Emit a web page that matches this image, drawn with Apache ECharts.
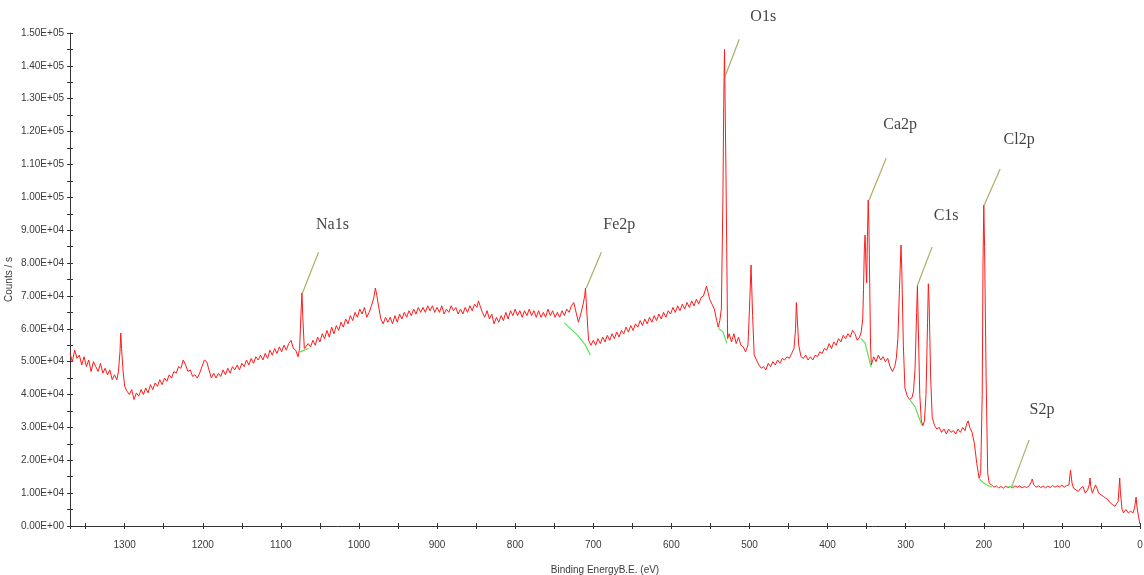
<!DOCTYPE html>
<html>
<head>
<meta charset="utf-8">
<script src="https://cdn.jsdelivr.net/npm/echarts@6/dist/echarts.min.js"></script>
<style>
html,body{margin:0;padding:0;background:#fff;}
#chart{width:1144px;height:575px;}
</style>
</head>
<body>
<div id="chart"></div>
<script>
// Survey spectrum: [binding energy (eV), counts/s in thousands]
const spectrumHighBE = [
 [1370,52.5],[1367,50.0],[1364,53.5],[1361,51.0],[1358,52.0],[1355,49.0],[1352,51.5],[1349,48.5],[1346,50.5],[1343,47.0],
 [1340,50.0],[1337,48.5],[1334,47.0],[1331,49.5],[1328,46.5],[1325,48.0],[1322,46.0],[1319,47.5],[1316,44.5],[1313,46.0],
 [1310,44.5],[1308,47.0],[1306,53.0],[1305,58.7],[1304,54.0],[1302,47.0],[1300,42.5],[1297,41.0],[1294,40.0],[1291,41.5],
 [1288,38.5],[1285,40.5],[1282,39.5],[1279,41.5],[1276,40.0],[1273,42.0],[1270,40.5],[1267,43.0],[1264,41.5],[1261,43.5],
 [1258,42.5],[1255,44.5],[1252,43.0],[1249,45.0],[1246,44.0],[1243,46.0],[1240,45.0],[1237,47.0],[1234,46.5],[1231,48.5],
 [1228,48.0],[1225,50.5],[1222,49.0],[1219,47.0],[1216,47.5],[1213,45.5],[1210,46.0],[1207,45.0],[1204,46.5],[1201,48.5],
 [1198,50.5],[1195,50.0],[1192,47.5],[1189,45.0],[1186,46.5],[1183,45.0],[1180,46.5],[1177,45.5],[1174,47.5],[1171,46.0],
 [1168,48.0],[1165,46.5],[1162,48.5],[1159,47.5],[1156,49.0],[1153,47.5],[1150,49.5],[1147,48.5],[1144,50.5],[1141,49.0],
 [1138,51.0],[1135,49.5],[1132,51.5],[1129,50.5],[1126,52.0],[1123,50.5],[1120,52.5],[1117,51.0],[1114,53.5],[1111,52.0],
 [1108,54.0],[1105,52.5],[1102,54.5],[1099,53.0],[1096,55.0],[1093,53.5],[1090,55.5],[1087,56.5],[1084,54.0],[1081,53.5],
 [1078,51.5],[1076,54.0],[1074,66.0],[1073,70.9],[1072,64.0],[1070,54.0],[1068,53.5],[1065,55.5],[1062,54.5],[1059,56.5],
 [1056,55.0],[1053,57.5],[1050,56.0],[1047,58.5],[1044,57.0],[1041,59.5],[1038,57.5],[1035,60.5],[1032,58.5],[1029,61.0],
 [1026,59.5],[1023,62.0],[1020,60.5],[1017,63.0],[1014,61.5],[1011,64.0],[1008,62.5],[1005,65.0],[1002,63.5]
];
const spectrumMidBE = [
 [999,66.0],[996,64.5],[993,66.5],[990,63.5],[987,65.0],[984,67.0],[981,69.5],[979,72.4],[977,70.0],[975,67.0],
 [972,63.0],[969,61.5],[966,63.5],[963,62.0],[960,63.5],[957,61.5],[954,64.0],[951,62.0],[948,64.5],[945,63.0],
 [942,65.0],[939,63.5],[936,65.5],[933,64.0],[930,66.0],[927,64.5],[924,66.5],[921,65.0],[918,66.5],[915,65.0],
 [912,67.0],[909,65.5],[906,67.0],[903,65.0],[900,66.5],[897,65.0],[894,67.0],[891,64.5],[888,66.0],[885,65.0],
 [882,67.0],[879,65.5],[876,66.5],[873,64.5],[870,66.0],[867,64.5],[864,66.5],[861,65.0],[858,67.0],[855,65.5],
 [852,67.5],[849,66.5],[847,68.5],[845,67.0],[842,65.0],[839,63.5],[836,65.5],[833,63.0],[830,64.5],[827,61.5],
 [824,63.5],[821,62.0],[818,64.0],[815,62.5],[812,65.0],[809,63.0],[806,65.5],[803,64.0],[800,66.0],[797,64.0],
 [794,65.5],[791,63.5],[788,65.5],[785,64.0],[782,66.0],[779,64.0],[776,65.5],[773,63.5],[770,65.5],[767,63.5],
 [764,65.0],[761,63.5],[758,66.0],[755,64.0],[752,65.5],[749,63.5],[746,65.0],[743,63.5],[740,65.5],[737,64.0],
 [734,66.0],[731,65.0],[728,67.0],[725,68.0],[722,65.0],[719,62.0],[716,64.5],[713,67.5],[711,70.0],[710,72.4],
 [709,68.0],[707,60.0],[706,56.5],[703,55.0],[700,56.5],[697,55.0],[694,57.0],[691,55.5],[688,57.5],[685,56.0],
 [682,58.0],[679,56.5],[676,58.5],[673,57.0],[670,59.0],[667,57.5],[664,59.5],[661,58.5],[658,60.5],[655,59.0],
 [652,61.0],[649,59.5],[646,61.5],[643,60.5],[640,62.5],[637,61.0],[634,63.0],[631,61.5],[628,63.5],[625,62.0],
 [622,64.0],[619,62.5],[616,64.5],[613,63.0],[610,65.0],[607,63.5],[604,65.5],[601,64.5],[598,66.5],[595,65.0],
 [592,67.0],[589,65.5],[586,67.5],[583,66.0],[580,68.0],[577,66.5],[574,68.5],[571,67.0],[568,69.0],[565,67.5],
 [562,69.5],[559,70.0],[557,71.5],[555,73.0],[553,71.0],[551,69.0],[548,67.5],[545,66.0],[542,62.5],[540,60.5],
 [538,62.5],[536,66.0],[534,100.0],[533,128.0],[532,145.0],[531,125.0],[530,105.0],[528,57.0],[526,58.5],[523,56.0],
 [520,58.5],[517,55.5],[514,57.5],[511,55.0],[508,54.5],[505,53.0],[502,55.0],[500,66.0]
];
const spectrumLowBE = [
 [498,79.4],[496,64.0],[494,52.0],[491,50.5],[488,49.0],[485,48.0],[482,48.5],[479,47.5],[476,49.5],[473,48.5],
 [470,50.0],[467,49.0],[464,50.5],[461,49.5],[458,51.0],[455,50.5],[452,51.5],[449,51.0],[446,52.5],[443,54.0],
 [441,60.0],[440,68.0],[439,64.0],[437,55.0],[434,51.5],[431,51.0],[428,52.0],[425,50.5],[422,51.5],[419,50.5],
 [416,52.0],[413,51.5],[410,53.0],[407,52.5],[404,54.0],[401,53.5],[398,55.5],[395,54.0],[392,56.0],[389,55.0],
 [386,57.0],[383,56.0],[380,58.0],[377,57.0],[374,58.5],[371,57.5],[368,59.5],[365,58.5],[362,56.5],[359,57.5],
 [357,59.0],[355,63.0],[354,72.0],[353,84.0],[352,88.5],[351,80.0],[350,74.0],[349,88.0],[348,99.2],[347,90.0],
 [346,72.0],[345,55.0],[344,49.0],[341,51.5],[338,50.0],[335,52.0],[332,50.5],[329,51.5],[326,50.0],[323,51.0],
 [320,48.5],[317,47.0],[314,48.5],[312,51.0],[310,57.0],[308,72.0],[306,85.5],[305,78.0],[303,55.0],[301,42.0],
 [298,39.5],[295,38.5],[292,39.0],[290,41.0],[288,48.0],[286,65.0],[285,73.0],[284,62.0],[282,40.0],[280,32.0],
 [278,30.5],[276,32.0],[274,40.0],[272,62.0],[271,73.7],[270,68.0],[268,45.0],[266,33.0],[263,30.5],[260,29.5],
 [257,30.0],[254,28.5],[251,29.5],[248,28.0],[245,29.5],[242,28.5],[239,29.0],[236,28.0],[233,29.5],[230,28.5],
 [227,30.0],[224,29.0],[222,31.0],[220,32.0],[218,30.0],[215,28.5],[212,25.0],[209,19.0],[206,14.5],[204,16.0],
 [202,40.0],[201,80.0],[200,97.6],[199,85.0],[197,45.0],[195,16.0],[193,13.0],[190,12.5],[187,11.8],[184,12.2],
 [181,11.6],[178,12.0],[175,11.5],[172,12.1],[169,11.7],[166,12.0],[163,11.6],[160,12.2],[157,11.8],[154,12.2],
 [151,11.6],[148,12.0],[145,11.7],[142,12.2],[139,13.5],[138,14.3],[136,12.5],[133,11.8],[130,12.2],[127,11.7],
 [124,12.2],[121,11.6],[118,12.1],[115,11.7],[112,12.3],[109,11.8],[106,12.2],[103,11.9],[100,12.4],[97,11.8],
 [94,12.3],[91,12.5],[89,17.0],[87,13.0],[85,11.5],[82,11.0],[79,10.5],[76,11.5],[73,12.0],[70,10.0],
 [67,11.0],[65,12.5],[64,14.6],[63,12.0],[61,10.0],[59,9.5],[57,12.5],[55,11.5],[53,10.0],[50,9.5],
 [47,9.0],[44,8.5],[41,8.0],[38,7.0],[35,6.5],[32,6.0],[30,5.5],[28,7.5],[27,11.0],[26,14.6],
 [25,10.0],[23,5.0],[21,4.0],[18,5.0],[15,4.0],[12,4.5],[9,4.0],[7,5.5],[5,8.8],[4,6.0],
 [2,3.0],[0,0.5]
];

// Peak annotations
const peakNames = ['Na1s','Fe2p','O1s','Ca2p','C1s','Cl2p','S2p'];
const leaderStart = [[1072.3,70.9],[708.9,72.4],[531.0,136.9],[346.8,99.2],[285.3,73.0],[199.6,97.6],[163.8,12.2]];
const leaderEnd   = [[1051.8,83.3],[689.7,83.3],[513.1,148.1],[325.0,111.9],[266.2,84.9],[179.1,108.6],[142.0,26.2]];
const labelAnchor = [[1034,91.6],[666.7,91.6],[482.4,154.8],[307.1,122.0],[248.2,94.3],[154.8,117.4],[125.4,35.3]];

// Peak backgrounds (green)
const backgrounds = [
 [[1076,52.9],[1070,53.5],[1064.6,54.1]],
 [[737,61.8],[720.4,58.1],[710.2,55.1],[703.8,52.0]],
 [[539.6,60.1],[534,59.1],[528.9,55.6]],
 [[357.4,57.1],[351.9,55.6],[344.2,48.3]],
 [[294.3,38.3],[288,36.3],[279.4,30.7]],
 [[205.6,14.2],[198.3,12.8],[189.8,11.8]],
 [[170.6,11.8],[162.1,12.2]]
];

const toCounts = p => [p[0], p[1] * 1000];
const spectrum = spectrumHighBE.concat(spectrumMidBE, spectrumLowBE).map(toCounts);

function sci(v) {
  const s = Number(v).toExponential(2);
  const parts = s.split('e');
  const sign = parts[1][0] === '-' ? '-' : '+';
  const exp = parts[1].replace(/[+-]/, '').padStart(2, '0');
  return parts[0] + 'E' + sign + exp;
}

const axisColor = '#333';
const labelFont = { fontFamily: 'Liberation Sans, Arial, sans-serif', fontSize: 10, color: '#3a3a3a' };

const chart = echarts.init(document.getElementById('chart'), null, { renderer: 'canvas' });
chart.setOption({
  animation: false,
  backgroundColor: '#fff',
  grid: { left: 70, right: 4, top: 33, bottom: 49, containLabel: false, outerBoundsMode: 'none' },
  xAxis: [
    {
      type: 'value', min: 0, max: 1370, interval: 50, inverse: true, position: 'bottom',
      name: 'Binding EnergyB.E. (eV)', nameLocation: 'middle', nameGap: 39, nameMoveOverlap: false,
      nameTextStyle: labelFont,
      axisLine: { show: true, onZero: false, lineStyle: { color: axisColor, width: 1 } },
      axisTick: { show: true, length: 3, lineStyle: { color: axisColor } },
      axisLabel: Object.assign({ margin: 14, formatter: v => (v % 100 === 0 ? String(v) : '') }, labelFont),
      splitLine: { show: false }
    },
    {
      type: 'value', min: 0, max: 1370, interval: 50, inverse: true, position: 'bottom',
      axisLine: { show: false, onZero: false },
      axisTick: { show: true, inside: true, length: 3, lineStyle: { color: axisColor } },
      axisLabel: { show: false },
      splitLine: { show: false }
    }
  ],
  yAxis: [
    {
      type: 'value', min: 0, max: 150000, interval: 10000, position: 'left',
      name: 'Counts / s', nameLocation: 'middle', nameGap: 56, nameMoveOverlap: false,
      nameTextStyle: labelFont,
      axisLine: { show: true, onZero: false, lineStyle: { color: axisColor, width: 1 } },
      axisTick: { show: true, length: 3, lineStyle: { color: axisColor } },
      minorTick: { show: true, splitNumber: 2, length: 3, lineStyle: { color: axisColor } },
      axisLabel: Object.assign({ margin: 6, formatter: v => sci(v) }, labelFont),
      splitLine: { show: false }
    },
    {
      type: 'value', min: 0, max: 150000, interval: 10000, position: 'left',
      axisLine: { show: false, onZero: false },
      axisTick: { show: true, inside: true, length: 3, lineStyle: { color: axisColor } },
      minorTick: { show: true, splitNumber: 2, length: 3, lineStyle: { color: axisColor } },
      axisLabel: { show: false },
      splitLine: { show: false }
    }
  ],
  series: [
    {
      type: 'line', data: spectrum, showSymbol: false, symbol: 'none',
      lineStyle: { color: '#ff1a1a', width: 1 }, z: 3, silent: true
    },
    {
      type: 'lines', coordinateSystem: 'cartesian2d', polyline: true, z: 4, silent: true,
      lineStyle: { color: '#5ee05e', width: 1.2, opacity: 1 },
      data: backgrounds.map(b => ({ coords: b.map(toCounts) }))
    },
    {
      type: 'lines', coordinateSystem: 'cartesian2d', z: 4, silent: true,
      lineStyle: { color: '#aeae66', width: 1.2, opacity: 1 },
      data: leaderStart.map((s, i) => ({ coords: [toCounts(s), toCounts(leaderEnd[i])] }))
    },
    {
      type: 'scatter', symbolSize: 0, clip: false, z: 5, silent: true,
      data: labelAnchor.map((a, i) => ({ value: toCounts(a), name: peakNames[i] })),
      label: {
        show: true, position: 'inside', formatter: p => p.name,
        fontFamily: 'Liberation Serif, Times New Roman, serif', fontSize: 16, color: '#111'
      }
    }
  ]
});
</script>
</body>
</html>
